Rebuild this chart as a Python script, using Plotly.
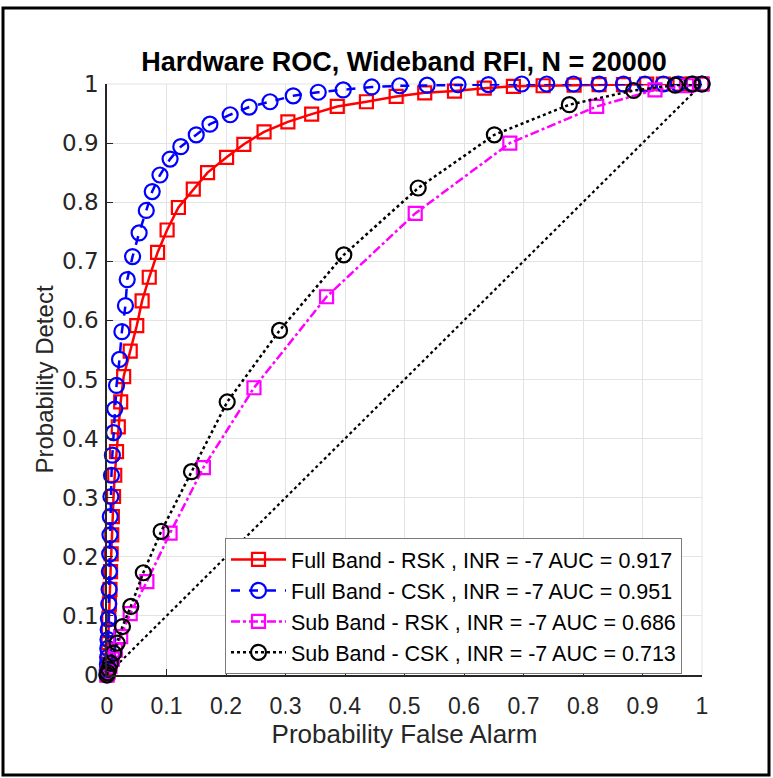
import plotly.graph_objects as go

# ---- data ----
fb_rsk_pfa = [0, 0.0005, 0.001, 0.0015, 0.002, 0.0025, 0.003, 0.004, 0.005, 0.006, 0.007, 0.008, 0.009,
              0.011, 0.013, 0.016, 0.019, 0.023, 0.028, 0.039, 0.050, 0.059, 0.071, 0.085, 0.101, 0.120,
              0.145, 0.169, 0.201, 0.230, 0.264, 0.304, 0.344, 0.387, 0.436, 0.486, 0.534, 0.584, 0.634,
              0.683, 0.733, 0.785, 0.827, 0.868, 0.907, 0.935, 0.963, 0.985, 1.0]
fb_rsk_pd = [0, 0.012, 0.025, 0.040, 0.055, 0.075, 0.095, 0.120, 0.145, 0.175, 0.205, 0.237, 0.268,
             0.302, 0.338, 0.378, 0.420, 0.462, 0.505, 0.548, 0.591, 0.633, 0.673, 0.715, 0.753, 0.791,
             0.822, 0.850, 0.876, 0.898, 0.919, 0.936, 0.949, 0.962, 0.970, 0.979, 0.985, 0.988, 0.993,
             0.996, 0.997, 0.998, 0.999, 0.999, 1.0, 1.0, 1.0, 1.0, 1.0]

fb_csk_pfa = [0, 0.0003, 0.0006, 0.001, 0.0013, 0.0016, 0.002, 0.0024, 0.003, 0.0035, 0.004, 0.0045,
              0.005, 0.0055, 0.0065, 0.0075, 0.009, 0.011, 0.013, 0.016, 0.021, 0.025, 0.031, 0.034,
              0.043, 0.054, 0.066, 0.076, 0.089, 0.106, 0.124, 0.150, 0.173, 0.207, 0.239, 0.274, 0.313,
              0.355, 0.397, 0.445, 0.492, 0.538, 0.590, 0.641, 0.697, 0.739, 0.784, 0.827, 0.868, 0.904,
              0.935, 0.960, 0.985, 1.0]
fb_csk_pd = [0, 0.008, 0.018, 0.030, 0.045, 0.060, 0.077, 0.095, 0.120, 0.145, 0.175, 0.205,
             0.237, 0.268, 0.302, 0.338, 0.372, 0.410, 0.450, 0.490, 0.534, 0.581, 0.625, 0.669,
             0.708, 0.748, 0.786, 0.818, 0.846, 0.873, 0.894, 0.914, 0.932, 0.948, 0.961, 0.970, 0.980,
             0.986, 0.990, 0.995, 0.997, 0.998, 0.999, 0.999, 1.0, 1.0, 1.0, 1.0, 1.0, 1.0,
             1.0, 1.0, 1.0, 1.0]

sb_rsk_pfa = [0, 0.002, 0.005, 0.009, 0.014, 0.023, 0.039, 0.067, 0.106, 0.162, 0.247, 0.369,
              0.518, 0.677, 0.823, 0.921, 0.974, 1.0]
sb_rsk_pd = [0, 0.005, 0.014, 0.027, 0.042, 0.065, 0.104, 0.158, 0.240, 0.351, 0.486, 0.640,
             0.781, 0.900, 0.962, 0.990, 0.997, 1.0]

sb_csk_pfa = [0, 0.001, 0.003, 0.006, 0.011, 0.017, 0.026, 0.040, 0.061, 0.091, 0.142, 0.202,
              0.290, 0.398, 0.523, 0.651, 0.777, 0.885, 0.955, 0.983, 1.0]
sb_csk_pd = [0, 0.004, 0.010, 0.020, 0.037, 0.054, 0.082, 0.116, 0.173, 0.243, 0.344, 0.462,
             0.583, 0.711, 0.824, 0.914, 0.965, 0.989, 0.998, 1.0, 1.0]

chance = [0, 1]

names = ["Full Band - RSK , INR = -7 AUC = 0.917",
         "Full Band - CSK , INR = -7 AUC = 0.951",
         "Sub Band - RSK , INR = -7 AUC = 0.686",
         "Sub Band - CSK , INR = -7 AUC = 0.713"]

ticks = [0, 0.1, 0.2, 0.3, 0.4, 0.5, 0.6, 0.7, 0.8, 0.9, 1]
tick_text = ["0", "0.1", "0.2", "0.3", "0.4", "0.5", "0.6", "0.7", "0.8", "0.9", "1"]

# ---- figure ----
fig = go.Figure()

fig.add_trace(go.Scatter(x=chance, y=chance, mode="lines", showlegend=False,
                         line=dict(color="black", width=2.2, dash="dot"), hoverinfo="skip"))

fig.add_trace(go.Scatter(x=fb_rsk_pfa, y=fb_rsk_pd, mode="lines+markers", name=names[0],
                         line=dict(color="#ff0000", width=2.5, dash="solid"),
                         marker=dict(symbol="square-open", size=13, color="#ff0000", line=dict(width=2.2)),
                         cliponaxis=False))
fig.add_trace(go.Scatter(x=fb_csk_pfa, y=fb_csk_pd, mode="lines+markers", name=names[1],
                         line=dict(color="#0000ff", width=2.5, dash="dash"),
                         marker=dict(symbol="circle-open", size=15, color="#0000ff", line=dict(width=2.2)),
                         cliponaxis=False))
fig.add_trace(go.Scatter(x=sb_rsk_pfa, y=sb_rsk_pd, mode="lines+markers", name=names[2],
                         line=dict(color="#ff00ff", width=2.5, dash="dashdot"),
                         marker=dict(symbol="square-open", size=13, color="#ff00ff", line=dict(width=2.2)),
                         cliponaxis=False))
fig.add_trace(go.Scatter(x=sb_csk_pfa, y=sb_csk_pd, mode="lines+markers", name=names[3],
                         line=dict(color="black", width=2.5, dash="dot"),
                         marker=dict(symbol="circle-open", size=15, color="black", line=dict(width=2.2)),
                         cliponaxis=False))

L, R, T, B = 107, 71, 84, 103
W, H = 773, 778
pw, ph = W - L - R, H - T - B

def px(X):
    return (X - L) / pw

def py(Y):
    return (H - B - Y) / ph

axis_common = dict(range=[0, 1], tickvals=ticks, ticktext=tick_text, showgrid=True,
                   gridcolor="#e3e3e3", gridwidth=1, showline=True, linecolor="#262626",
                   linewidth=1.5, ticks="inside", ticklen=6, tickcolor="#262626",
                   zeroline=False, fixedrange=True)

fig.update_layout(
    width=W, height=H,
    margin=dict(l=L, r=R, t=T, b=B),
    paper_bgcolor="white", plot_bgcolor="white",
    title=dict(text="<b>Hardware ROC, Wideband RFI, N = 20000</b>",
               x=px(404), xref="paper", xanchor="center",
               y=1 - 62 / H, yref="container", yanchor="middle",
               font=dict(family="Liberation Sans, Arial, sans-serif", size=27, color="black")),
    xaxis=dict(**axis_common,
               tickfont=dict(family="Liberation Sans, Arial, sans-serif", size=23, color="#262626"),
               title=dict(text="Probability False Alarm", standoff=6,
                          font=dict(family="Liberation Sans, Arial, sans-serif", size=26, color="#262626")),
               ticklabelstandoff=10),
    yaxis=dict(**axis_common,
               tickfont=dict(family="DejaVu Sans, Verdana, sans-serif", size=23, color="#262626"),
               title=dict(text="Probability Detect", standoff=2,
                          font=dict(family="Liberation Sans, Arial, sans-serif", size=24, color="#262626")),
               ticklabelstandoff=2),
    legend=dict(x=px(225), y=py(606), xanchor="left", yanchor="middle",
                bgcolor="white", bordercolor="#7a7a7a", borderwidth=1,
                font=dict(family="Liberation Sans, Arial, sans-serif", size=21.5, color="black"),
                itemwidth=55, tracegroupgap=0),
    showlegend=True,
)

# light grid at the top and right edges (box off, grid on)
fig.add_shape(type="line", xref="paper", yref="paper", x0=0, x1=1, y0=1, y1=1,
              line=dict(color="#e3e3e3", width=1), layer="below")
fig.add_shape(type="line", xref="paper", yref="paper", x0=1, x1=1, y0=0, y1=1,
              line=dict(color="#e3e3e3", width=1), layer="below")

# outer figure frame
fig.add_shape(type="rect", xref="paper", yref="paper",
              x0=px(3), x1=px(769), y0=py(775), y1=py(8),
              line=dict(color="black", width=3), fillcolor="rgba(0,0,0,0)", layer="above")

fig.write_html("out.html", config={"displayModeBar": False},
               post_script="document.body.style.margin='0';")
